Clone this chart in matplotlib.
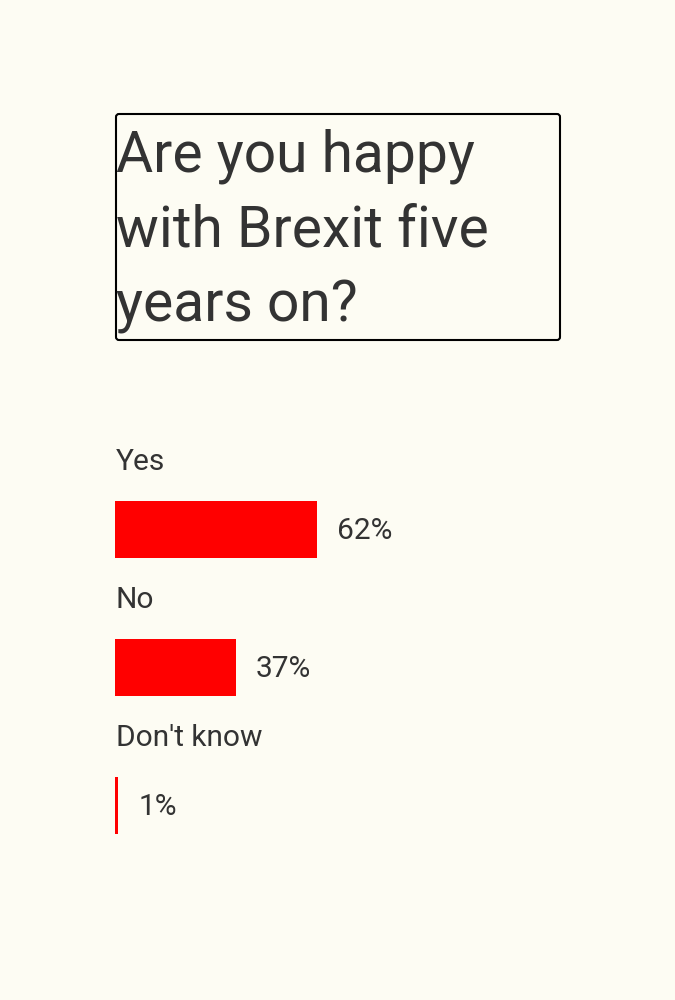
import matplotlib.pyplot as plt
from matplotlib.patches import FancyBboxPatch

# poll data
categories = ["Yes", "No", "Don't know"]
shares = [62, 37, 1]
title = "Are you happy\nwith Brexit five\nyears on?"

bg = '#fdfcf3'
txt = '#333333'
red = '#ff0000'

plt.rcParams['font.family'] = ['Roboto', 'DejaVu Sans']

W, H = 675, 1000
fig = plt.figure(figsize=(W / 100, H / 100), dpi=100, facecolor=bg)

# page layer in pixel coordinates (title + frame)
page = fig.add_axes([0, 0, 1, 1])
page.set_xlim(0, W)
page.set_ylim(H, 0)
page.axis('off')
page.patch.set_alpha(0)

box = FancyBboxPatch((116, 114), 444, 226, boxstyle='round,pad=0,rounding_size=3',
                     fill=False, edgecolor='black', linewidth=1.5)
page.add_patch(box)
# multi-line baseline alignment uses the last line
page.text(116, 322, title, fontsize=41, color=txt, va='baseline', ha='left',
          linespacing=1.47)

# bars layer: x in percent, 100% = 326 px starting at x=115
ax = fig.add_axes([115 / W, 1 - 875 / H, 326 / W, 415 / H])
ax.set_xlim(0, 100)
ax.set_ylim(len(categories) - 0.5, -0.5)
ax.axis('off')
ax.patch.set_alpha(0)

ypos = list(range(len(categories)))
ax.barh(ypos, shares, height=0.41, color=red, left=0)
for i, (cat, val) in enumerate(zip(categories, shares)):
    ax.text(0.2, i - 0.43, cat, fontsize=21.5, color=txt, va='baseline', ha='left')
    ax.annotate(f"{val}%", xy=(val, i + 0.069), xytext=(14.5, 0),
                textcoords='offset points', fontsize=21.5, color=txt,
                va='baseline', ha='left')

fig.savefig('out.png', dpi=100, facecolor=bg)
